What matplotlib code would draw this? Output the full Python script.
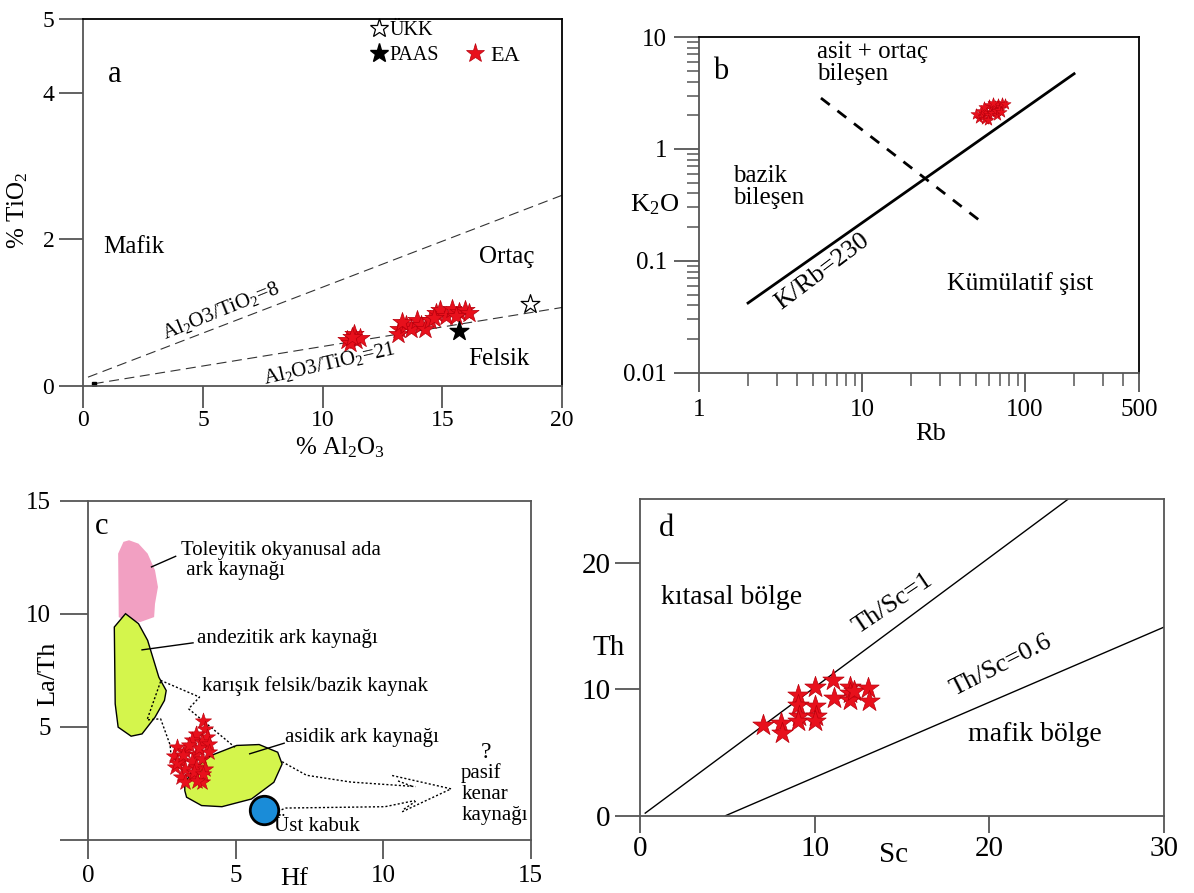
import numpy as np
import matplotlib
matplotlib.use("Agg")
import matplotlib.pyplot as plt
from matplotlib.lines import Line2D
from matplotlib.patches import Polygon
from matplotlib.ticker import LogLocator, NullFormatter

plt.rcParams['font.family'] = ['Liberation Serif', 'DejaVu Serif']
plt.rcParams['mathtext.fontset'] = 'custom'
plt.rcParams['mathtext.rm'] = 'Liberation Serif'
plt.rcParams['mathtext.default'] = 'regular'

RED = '#e8101c'
RED_EDGE = '#b8000c'
SPINE = '#555555'

# ---- panel a: Al2O3 vs TiO2 ----
ea_al2o3 = [11.0, 11.3, 11.4, 11.15, 11.55, 11.23,
            13.2, 13.15, 13.47, 13.7, 13.95, 14.1, 14.27, 14.5, 14.75, 14.9,
            15.15, 15.4, 15.7, 15.95, 16.1, 15.55, 14.67, 13.3]
ea_tio2 = [0.63, 0.71, 0.62, 0.58, 0.65, 0.67,
           0.78, 0.71, 0.83, 0.78, 0.90, 0.83, 0.78, 0.90, 0.99, 1.03,
           0.96, 1.05, 1.01, 1.03, 0.99, 0.96, 0.92, 0.87]
paas_al2o3, paas_tio2 = [15.7], [0.75]
ukk_al2o3, ukk_tio2 = [18.67], [1.12]
origin_pt = ([0.43], [0.03])
ratio8_x, ratio8_y = [0.19, 20], [0.12, 2.6]
ratio21_x, ratio21_y = [0.43, 20], [0.03, 1.07]

# ---- panel b: Rb vs K2O ----
ea_rb = [52, 55, 57, 58, 60, 62, 63, 65, 66, 68, 70, 72, 54, 60, 67, 75, 50, 64,
         56, 59, 69, 71]
ea_k2o = [1.9, 2.0, 1.85, 2.15, 2.0, 2.3, 2.1, 2.4, 2.2, 2.5, 2.35, 2.6,
          2.2, 2.45, 2.0, 2.5, 2.05, 2.6, 2.35, 1.8, 2.25, 2.15]
kr_line_rb, kr_line_k2o = [2, 200], [0.042, 4.7]
div_line_rb, div_line_k2o = [5.6, 57], [2.85, 0.21]

# ---- panel c: Hf vs La/Th ----
ea_hf = [3.9, 3.96, 4.03, 3.65, 3.52, 3.84, 4.09, 3.02, 3.27, 3.65, 2.89, 3.14,
         3.52, 3.84, 2.95, 3.27, 3.65, 3.96, 3.14, 3.52, 3.84, 3.27,
         3.75, 3.4, 3.0, 3.58, 3.9, 4.1, 3.7, 3.2]
ea_lath = [5.27, 4.90, 4.53, 4.68, 4.39, 4.31, 4.24, 4.09, 3.94, 3.80, 3.72, 3.50,
           3.50, 3.57, 3.21, 3.13, 3.21, 3.13, 2.76, 2.84, 2.54, 2.54,
           4.05, 4.2, 3.4, 3.0, 2.9, 3.9, 2.6, 3.75]
toleyitik = [(1.03, 9.85), (1.01, 12.66), (1.19, 13.18), (1.38, 13.25), (1.70, 13.10),
             (2.01, 12.66), (2.26, 11.92), (2.36, 11.18), (2.26, 10.44), (2.23, 9.85),
             (1.76, 9.63), (1.13, 9.78)]
andezitik = [(1.26, 10.0), (0.88, 9.41), (0.91, 6.01), (1.01, 4.98), (1.45, 4.58),
             (1.82, 4.68), (2.26, 5.42), (2.58, 6.16), (2.64, 6.60), (2.39, 7.19),
             (2.01, 8.82), (1.70, 9.56)]
asidik = [(3.27, 2.17), (3.33, 1.88), (3.84, 1.51), (4.53, 1.46), (5.53, 1.80),
          (6.29, 2.54), (6.57, 3.35), (6.42, 3.87), (5.79, 4.21), (5.03, 4.17),
          (4.15, 3.72), (3.52, 3.06), (3.27, 2.47)]
ust_kabuk = ([5.97], [1.33])
dotted_paths = [
    [(2.45, 7.05), (3.77, 6.31), (3.40, 5.79), (4.97, 4.09)],
    [(2.45, 7.0), (1.99, 5.3), (2.45, 5.35), (2.77, 4.2), (2.83, 3.4)],
    [(6.57, 3.45), (7.4, 2.85), (8.9, 2.55), (11.1, 2.35)],
    [(10.3, 2.84), (12.3, 2.25), (10.6, 1.21)],
    [(10.5, 2.6), (11.0, 2.35)],
    [(6.42, 1.26), (6.7, 1.4), (10.06, 1.46), (11.07, 1.73)],
    [(10.7, 1.35), (11.1, 1.7)],
]
leaders = [
    [(2.96, 12.54), (2.14, 12.07)],
    [(3.55, 8.71), (1.82, 8.40)],
    [(6.64, 4.27), (5.47, 3.80)],
]

# ---- panel d: Sc vs Th ----
ea_sc = [7.05, 8.05, 8.12, 9.02, 9.02, 9.13, 9.02, 10.02, 10.02, 10.09, 10.02,
         11.03, 11.1, 12.03, 12.03, 12.03, 12.25, 13.04, 13.09]
ea_th = [7.13, 7.34, 6.55, 9.56, 8.78, 7.86, 7.47, 10.2, 8.65, 7.86, 7.47,
         10.72, 9.28, 10.2, 9.7, 9.17, 9.83, 10.09, 9.04]
thsc1_x, thsc1_y = [0.3, 24.5], [0.2, 25]
thsc06_x, thsc06_y = [4.9, 30], [0, 14.9]


def style_axes(ax, ticklen=17, labelsize=18, pad=5):
    for s in ax.spines.values():
        s.set_color(SPINE)
        s.set_linewidth(1.3)
    ax.tick_params(direction='out', length=ticklen, width=1.3, color=SPINE,
                   labelsize=labelsize, pad=pad)
    ax.set_facecolor('none')


fig = plt.figure(figsize=(11.94, 8.93), dpi=100)

# ================= a =================
ax = fig.add_axes([0.0699, 0.5678, 0.4008, 0.4106])
style_axes(ax, labelsize=17, pad=4)
ax.tick_params(axis='x', length=16, pad=1)
ax.set_xlim(0, 20)
ax.set_ylim(0, 5)
ax.set_xticks([0, 5, 10, 15, 20])
ax.set_yticks([0, 2, 4, 5])
ax.spines['top'].set_color('black')
ax.spines['right'].set_color('black')
ax.plot(ratio8_x, ratio8_y, color='#333333', lw=0.8, dashes=(9, 5))
ax.plot(ratio21_x, ratio21_y, color='#333333', lw=0.8, dashes=(9, 5))
ax.plot(*origin_pt, 's', color='black', ms=3)
ax.scatter(ea_al2o3, ea_tio2, marker='*', s=210, c=RED, edgecolors=RED_EDGE,
           linewidths=0.5, zorder=3)
ax.scatter(paas_al2o3, paas_tio2, marker='*', s=200, c='black', zorder=4)
ax.scatter(ukk_al2o3, ukk_tio2, marker='*', s=200, c='white',
           edgecolors='black', linewidths=0.9, zorder=4)
ax.text(1.31, 4.25, 'a', fontsize=22, ha='center', va='center')
ax.text(0.83, 1.89, 'Mafik', fontsize=18, va='center')
ax.text(16.54, 1.76, 'Ortaç', fontsize=18, va='center')
ax.text(16.06, 0.37, 'Felsik', fontsize=18, va='center')
ax.text(5.76, 1.03, 'Al$_2$O3/TiO$_2$=8', fontsize=15, rotation=22,
        ha='center', va='center')
ax.text(10.3, 0.30, 'Al$_2$O3/TiO$_2$=21', fontsize=15, rotation=13,
        ha='center', va='center')
ax.set_xlabel('% Al$_2$O$_3$', fontsize=18)
ax.xaxis.set_label_coords(0.536, -0.135)
ax.set_ylabel('% TiO$_2$', fontsize=18)
ax.yaxis.set_label_coords(-0.112, 0.48)
h_ukk = Line2D([], [], ls='none', marker='*', ms=14, mfc='white', mec='black', mew=0.9)
h_paas = Line2D([], [], ls='none', marker='*', ms=14, color='black')
h_ea = Line2D([], [], ls='none', marker='*', ms=14, mfc=RED, mec=RED_EDGE, mew=0.5)
leg1 = ax.legend([h_ukk, h_paas], ['ÜKK', 'PAAS'], loc='upper left',
                 bbox_to_anchor=(0.6, 0.995), frameon=False, fontsize=14.5,
                 handlelength=0.8, handletextpad=0.15, labelspacing=0.3,
                 borderpad=0, borderaxespad=0)
ax.add_artist(leg1)
ax.legend([h_ea], ['EA'], loc='upper left', bbox_to_anchor=(0.80, 0.93),
          frameon=False, fontsize=16, handlelength=0.8, handletextpad=0.3,
          borderpad=0, borderaxespad=0)

# ================= b =================
ax = fig.add_axes([0.5854, 0.5826, 0.3685, 0.3759])
style_axes(ax, ticklen=18, labelsize=18)
ax.set_xscale('log')
ax.set_yscale('log')
ax.set_xlim(1, 500)
ax.set_ylim(0.01, 10)
ax.set_xticks([1, 10, 100, 500])
ax.set_xticklabels(['1', '10', '100', '500'])
ax.set_yticks([0.01, 0.1, 1, 10])
ax.set_yticklabels(['0.01', '0.1', '1', '10'])
for axis in (ax.xaxis, ax.yaxis):
    axis.set_minor_locator(LogLocator(base=10, subs=range(2, 10)))
    axis.set_minor_formatter(NullFormatter())
ax.tick_params(which='minor', direction='out', length=9, width=1.1, color=SPINE)
ax.tick_params(axis='x', which='major', length=14)
ax.spines['top'].set_color('black')
ax.spines['right'].set_color('black')
ax.plot(kr_line_rb, kr_line_k2o, color='black', lw=2)
ax.plot(div_line_rb, div_line_k2o, color='black', lw=2, dashes=(4, 3.5))
ax.scatter(ea_rb, ea_k2o, marker='*', s=70, c=RED, edgecolors=RED_EDGE,
           linewidths=0.4, zorder=3)
ax.text(1.35, 4.93, 'b', fontsize=22, ha='center', va='center')
ax.text(5.28, 9.3, 'asit + ortaç\nbileşen', fontsize=18, va='top', linespacing=1.0)
ax.text(1.61, 0.72, 'bazik\nbileşen', fontsize=18, va='top', linespacing=1.0)
ax.text(33, 0.063, 'Kümülatif şist', fontsize=18.5, va='center')
ax.text(5.7, 0.08, 'K/Rb=230', fontsize=19, rotation=37, ha='center', va='center')
ax.set_xlabel('Rb', fontsize=19)
ax.xaxis.set_label_coords(0.527, -0.15)
ax.set_ylabel('K$_2$O', fontsize=19, rotation=0, ha='center', va='center')
ax.yaxis.set_label_coords(-0.1, 0.5)

# ================= c =================
ax = fig.add_axes([0.0740, 0.0597, 0.3705, 0.3796])
style_axes(ax, ticklen=20, pad=7)
ax.tick_params(axis='x', length=14, pad=4)
ax.set_xlim(0, 15)
ax.set_ylim(0, 15)
ax.set_xticks([0, 5, 10, 15])
ax.set_yticks([0, 5, 10, 15])
ax.set_yticklabels(['', '5', '10', '15'])
ax.add_patch(Polygon(toleyitik, closed=True, fc='#f2a0c2', ec='none', zorder=1))
ax.add_patch(Polygon(andezitik, closed=True, fc='#d4f54c', ec='black', lw=1, zorder=2))
ax.add_patch(Polygon(asidik, closed=True, fc='#d4f54c', ec='black', lw=1, zorder=2))
for path in dotted_paths:
    xs, ys = zip(*path)
    ax.plot(xs, ys, color='black', lw=1, ls=(0, (1.5, 1.5)), zorder=3)
for path in leaders:
    xs, ys = zip(*path)
    ax.plot(xs, ys, color='black', lw=1, zorder=3)
ax.scatter(ea_hf, ea_lath, marker='*', s=150, c=RED, edgecolors=RED_EDGE,
           linewidths=0.4, zorder=4)
ax.scatter(*ust_kabuk, s=420, c='#1a8cd8', edgecolors='black', linewidths=2, zorder=4)
ax.text(0.44, 13.84, 'c', fontsize=22, ha='center', va='center')
ax.text(3.14, 13.2, 'Toleyitik okyanusal ada\n ark kaynağı', fontsize=15,
        va='top', linespacing=1.05)
ax.text(3.69, 8.89, 'andezitik ark kaynağı', fontsize=15, va='center')
ax.text(3.84, 6.78, 'karışık felsik/bazik kaynak', fontsize=15, va='center')
ax.text(6.67, 4.53, 'asidik ark kaynağı', fontsize=15, va='center')
ax.text(13.5, 3.87, '?', fontsize=17, ha='center', va='center')
ax.text(12.64, 3.4, 'pasif\nkenar\nkaynağı', fontsize=15, va='top', linespacing=1.15)
ax.text(6.29, 0.58, 'Üst kabuk', fontsize=15, va='center')
ax.set_xlabel('Hf', fontsize=19)
ax.xaxis.set_label_coords(0.465, -0.083)
ax.set_ylabel('La/Th', fontsize=19)
ax.yaxis.set_label_coords(-0.066, 0.489)

# ================= d =================
ax = fig.add_axes([0.536, 0.0866, 0.4389, 0.3543])
style_axes(ax, ticklen=18, labelsize=21, pad=3)
ax.tick_params(axis='x', length=12)
ax.set_xlim(0, 30)
ax.set_ylim(0, 25)
ax.set_xticks([0, 10, 20, 30])
ax.set_yticks([0, 10, 20])
ax.plot(thsc1_x, thsc1_y, color='black', lw=1)
ax.plot(thsc06_x, thsc06_y, color='black', lw=1)
ax.scatter(ea_sc, ea_th, marker='*', s=260, c=RED, edgecolors=RED_EDGE,
           linewidths=0.5, zorder=3)
ax.text(1.52, 22.7, 'd', fontsize=22, ha='center', va='center')
ax.text(1.19, 17.2, 'kıtasal bölge', fontsize=20, va='center')
ax.text(18.75, 6.42, 'mafik bölge', fontsize=20, va='center')
ax.text(14.5, 16.8, 'Th/Sc=1', fontsize=19, rotation=34, ha='center', va='center')
ax.text(20.7, 11.9, 'Th/Sc=0.6', fontsize=19, rotation=27, ha='center', va='center')
ax.set_xlabel('Sc', fontsize=21)
ax.xaxis.set_label_coords(0.483, -0.083)
ax.set_ylabel('Th', fontsize=21, rotation=0, ha='center', va='center')
ax.yaxis.set_label_coords(-0.059, 0.53)

fig.savefig('out.png', dpi=100)
